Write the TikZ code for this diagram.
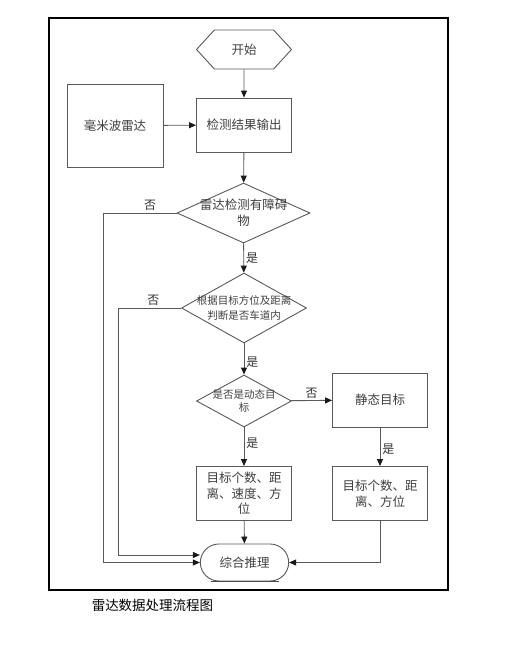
\documentclass[tikz,border=0pt]{standalone}
\usepackage{fontspec}
\setmainfont{Noto Sans CJK SC}
\usetikzlibrary{arrows.meta, positioning, shapes.geometric, shapes.misc, shapes.symbols}

\tikzset{
    box/.style={draw=black!65, line width=0.9pt, fill=white, minimum width=95pt, minimum height=54pt, inner sep=1pt, align=center, text=black!75, font=\fontsize{12.5}{15.5}\selectfont},
    decision/.style={diamond, draw=black!65, line width=0.9pt, inner sep=0pt},
    dtext/.style={align=center, text=black!75, inner sep=0pt},
    flow/.style={draw=black!65, line width=0.9pt, -{Triangle[length=7pt, width=6pt, color=black!90]}},
    yesno/.style={text=black!80, inner sep=2pt, font=\fontsize{12}{14}\selectfont}
}

\begin{document}
\begin{tikzpicture}[x=1pt, y=-1pt]
    \useasboundingbox (0,0) rectangle (528,649);
    \draw[line width=1.1pt] (49,18) rectangle (448,590);

    % Start and input
    \node[signal, signal to=east and west, signal pointer angle=95, draw=black!65, line width=0.9pt,
          minimum width=95pt, minimum height=39pt, inner sep=0pt, text=black!75,
          font=\fontsize{12.5}{15}\selectfont] (start) at (244,49.5) {开始};
    \node[box] (output) at (244,125) {检测结果输出};
    \node[box, minimum width=96pt, minimum height=83pt] (radar) at (115,125.5) {毫米波雷达};

    % Decisions
    \node[decision, minimum width=133pt, minimum height=60pt] (d1) at (243.5,213) {};
    \node[dtext, font=\fontsize{12.5}{16}\selectfont] (d1t) at (d1) {雷达检测有障碍\\物};
    \node[decision, minimum width=125pt, minimum height=70pt] (d2) at (244,308) {};
    \node[dtext, font=\fontsize{10.5}{15}\selectfont] (d2t) at (244,307.5) {根据目标方位及距离\\判断是否车道内};
    \node[decision, minimum width=95pt, minimum height=52pt] (d3) at (244,401) {};
    \node[dtext, font=\fontsize{10.5}{13}\selectfont] (d3t) at (244,400.5) {是否是动态目\\标};

    % Results
    \node[box] (static) at (380,400) {静态目标};
    \node[box] (dyninfo) at (244,493.5) {目标个数、距\\离、速度、方\\位};
    \node[box] (statinfo) at (380,493.5) {目标个数、距\\离、方位};
    \node[rounded rectangle, draw=black!65, line width=0.9pt, minimum width=95pt, minimum height=37pt,
          text=black!75, font=\fontsize{12.5}{15}\selectfont] (fuse) at (244.5,562.5) {综合推理};
    \draw[line width=1.8pt, black!70] ([xshift=-34pt]fuse.south) -- ([xshift=34pt]fuse.south);

    % Connectors
    \coordinate (l1) at (103,562.5);
    \coordinate (l2) at (118,555);
    \draw[flow] (start) -- (output);
    \draw[flow] (radar) -- (output);
    \draw[flow] (output) -- (d1);
    \draw[flow] (d1) -- (d2) node[yesno, midway, right] (y1) {是};
    \draw[flow] (d2) -- (d3) node[yesno, pos=0.6, right] (y2) {是};
    \draw[flow] (d3) -- (static) node[yesno, midway, above] (n3) {否};
    \draw[flow] (d3) -- (dyninfo) node[yesno, pos=0.42, right] (y3) {是};
    \draw[flow] (static) -- (statinfo) node[yesno, pos=0.57, right] (y4) {是};
    \draw[flow] (dyninfo) -- (fuse);
    \draw[flow] (statinfo.south) |- (fuse.east);
    \draw[flow] (d1.west) -| (l1) node[yesno, pos=0.18, above] (n1) {否} -- (fuse.west);
    \draw[flow] (d2.west) -| (l2) node[yesno, pos=0.22, above] (n2) {否} -- (l2 -| fuse.west);

    % Caption
    \node[font=\fontsize{13.5}{15}\selectfont] (caption) at (152.5,605) {雷达数据处理流程图};
\end{tikzpicture}
\end{document}
